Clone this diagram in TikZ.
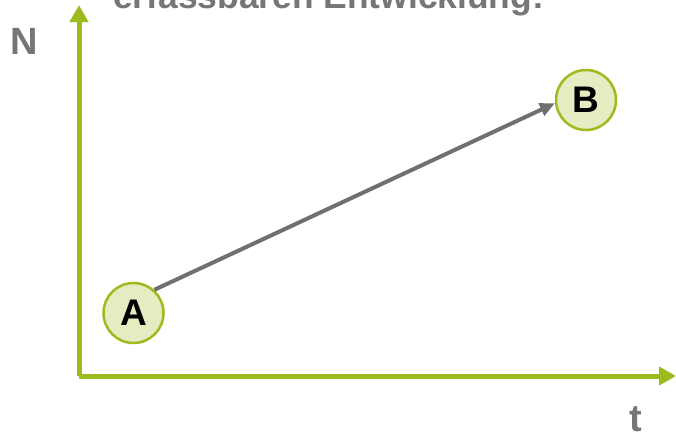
\documentclass[tikz,border=0pt]{standalone}
\usepackage{fontspec}
\setmainfont{Liberation Sans}
\usetikzlibrary{arrows.meta}
\definecolor{axisgreen}{RGB}{155,187,30}
\definecolor{circfill}{RGB}{229,236,193}
\definecolor{arrowgray}{RGB}{112,112,112}
\definecolor{textgray}{RGB}{118,118,118}
\tikzset{
  axisline/.style={draw=axisgreen, line width=5pt, -{Triangle[length=17pt,width=18pt]}},
  statenode/.style={circle, draw=axisgreen, fill=circfill, line width=2.5pt, minimum size=60pt, inner sep=0pt, font=\bfseries\fontsize{37}{37}\selectfont, text=black},
  devarrow/.style={draw=arrowgray, line width=4pt, -{Triangle[length=15pt,width=13pt]}},
  axislabel/.style={font=\bfseries\fontsize{38}{38}\selectfont, text=textgray, inner sep=0pt},
  titletext/.style={font=\bfseries\fontsize{35.4}{36}\selectfont, text=textgray, inner sep=0pt, anchor=base west}
}
\begin{document}
\begin{tikzpicture}[x=1pt,y=-1pt]
\useasboundingbox (0,0) rectangle (676,434);
\clip (0,0) rectangle (676,434);
\node[titletext] (title) at (113,8) {erfassbaren Entwicklung:};
\coordinate (O) at (79,376);
\coordinate (Ntop) at (79,5);
\coordinate (Tend) at (676,376);
\draw[axisline] (O) -- (Ntop);
\draw[axisline] (O) -- (Tend);
\node[axislabel] (N) at (24.5,41.5) {N};
\node[axislabel, anchor=base] (t) at (635.5,431) {t};
\node[statenode] (A) at (133.5,313) {A};
\node[statenode] (B) at (586,100) {B};
\draw[devarrow] (A.48) -- (B.186);
\end{tikzpicture}
\end{document}
